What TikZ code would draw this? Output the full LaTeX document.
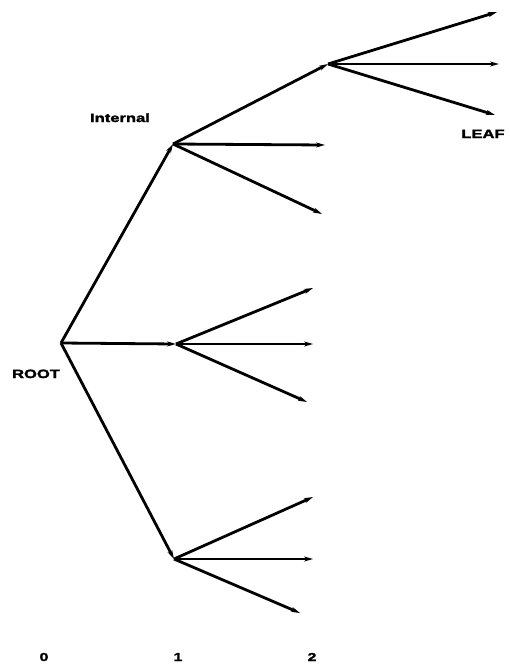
\documentclass[tikz,border=0pt]{standalone}
\usepackage{fontspec}
\usetikzlibrary{arrows.meta}
\newfontfamily\lblfont[FakeStretch=1.38,FakeBold=2.2]{Liberation Sans}
\begin{document}
\begin{tikzpicture}[x=1pt,y=-1pt,
  branch/.style={line width=2.8pt,-{Stealth[length=9pt,width=5pt]}},
  lbl/.style={font=\lblfont\bfseries\fontsize{12}{13}\selectfont,inner sep=0pt,anchor=base},
  num/.style={font=\lblfont\bfseries\fontsize{11.5}{12}\selectfont,inner sep=0pt,anchor=base}]
\useasboundingbox (0,0) rectangle (510,667);
% tree nodes
\coordinate (root) at (61,343);
\coordinate (a) at (173,144);
\coordinate (b) at (176,344);
\coordinate (c) at (174,559);
\coordinate (d) at (328,64);
% free ends of the leaf branches
\coordinate (a2) at (325,145);
\coordinate (a3) at (322,214);
\coordinate (b1) at (313,288);
\coordinate (b2) at (313,344);
\coordinate (b3) at (307,402);
\coordinate (c1) at (313,497);
\coordinate (c2) at (313,559);
\coordinate (c3) at (300,613);
\coordinate (d1) at (497,12);
\coordinate (d2) at (499,64);
\coordinate (d3) at (495,115);
% branches
\draw[branch] (root) -- (a);
\draw[branch] (root) -- (b);
\draw[branch] (root) -- (c);
\draw[branch] (a) -- (d);
\draw[branch] (a) -- (a2);
\draw[branch] (a) -- (a3);
\draw[branch] (b) -- (b1);
\draw[branch] (b) -- (b2);
\draw[branch] (b) -- (b3);
\draw[branch] (c) -- (c1);
\draw[branch] (c) -- (c2);
\draw[branch] (c) -- (c3);
\draw[branch] (d) -- (d1);
\draw[branch] (d) -- (d2);
\draw[branch] (d) -- (d3);
% labels
\node[lbl] (tint) at (120,122) {Internal};
\node[lbl] (troot) at (36,378) {ROOT};
\node[lbl] (tleaf) at (483,138) {LEAF};
\node[num] (l0) at (44,661) {0};
\node[num] (l1) at (178,661) {1};
\node[num] (l2) at (312,661) {2};
\end{tikzpicture}
\end{document}
